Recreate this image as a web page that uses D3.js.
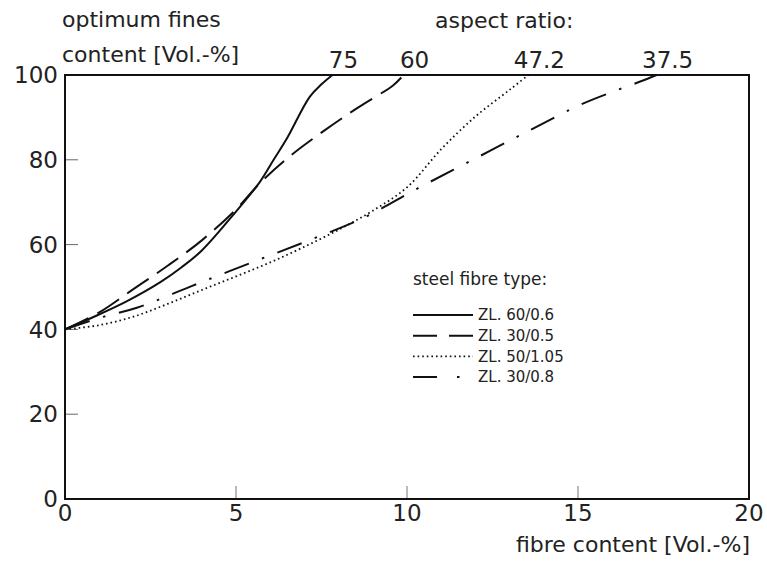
<!DOCTYPE html>
<html>
<head>
<meta charset="utf-8">
<script src="https://cdn.jsdelivr.net/npm/d3@7"></script>
<style>
  body { margin: 0; background: #fff; }
  svg { display: block; font-family: "DejaVu Sans", sans-serif; }
</style>
</head>
<body>
<div id="chart"></div>
<script>
// Valeurs
const xTicks = [0, 5, 10, 15, 20];
const yTicks = [0, 20, 40, 60, 80, 100];

const seriesNames = ["ZL. 60/0.6", "ZL. 30/0.5", "ZL. 50/1.05", "ZL. 30/0.8"];
const aspectRatios = ["75", "60", "47.2", "37.5"];

// fibre content [Vol.-%] / optimum fines content [Vol.-%]
const zl60x = [0, 0.8, 1.8, 2.8, 3.4, 4.0, 5.0, 5.7, 6.1, 6.5, 7.15, 7.5, 7.82];
const zl60y = [40, 42.8, 46.6, 51.2, 54.6, 58.6, 67.8, 74.8, 80, 85.2, 94.8, 97.8, 100];

const zl30x = [0, 1, 2, 3, 4, 5, 5.7, 6.6, 7.6, 8.6, 9.6, 9.9];
const zl30y = [40, 44, 49.5, 55, 61, 68.3, 74.5, 81, 87, 92.5, 97.6, 100];

const zl50x = [0, 1, 2, 3, 4, 5, 6, 7, 8, 9, 10, 11, 12, 13, 13.55];
const zl50y = [40, 41, 43, 46, 49.3, 52.5, 55.8, 59.5, 63.5, 68, 73.5, 82.5, 90.2, 96.5, 100];

const zl308x = [0, 1, 2.1, 3.7, 5.4, 7.1, 8.75, 10.3, 11.9, 13.5, 15.1, 16.1, 16.8, 17.3];
const zl308y = [40, 42.7, 45.1, 50.2, 55.6, 60.9, 66.4, 73.2, 79.9, 86.6, 93.1, 96.3, 98.4, 100];

const width = 767, height = 561;
const x = d3.scaleLinear().domain([0, 20]).range([65, 749]);
const y = d3.scaleLinear().domain([0, 100]).range([499, 75]);

const styles = [
  { dash: null, w: 2 },
  { dash: "26,10", w: 2 },
  { dash: "1.6,3", w: 1.8 },
  { dash: "26,14,2.5,14", w: 2 }
];

const svg = d3.select("#chart").append("svg")
  .attr("width", width).attr("height", height);

// ticks intérieurs
svg.append("g").selectAll("line")
  .data(xTicks.slice(1, -1)).enter().append("line")
  .attr("x1", d => x(d)).attr("x2", d => x(d))
  .attr("y1", y(0)).attr("y2", y(0) - 13)
  .attr("stroke", "#777").attr("stroke-width", 1);

svg.append("g").selectAll("line")
  .data(yTicks.slice(1, -1)).enter().append("line")
  .attr("x1", x(0)).attr("x2", x(0) + 13)
  .attr("y1", d => y(d)).attr("y2", d => y(d))
  .attr("stroke", "#666").attr("stroke-width", 1);

// cadre
svg.append("rect")
  .attr("x", x(0)).attr("y", y(100))
  .attr("width", x(20) - x(0)).attr("height", y(0) - y(100))
  .attr("fill", "none").attr("stroke", "#111").attr("stroke-width", 2);

// étiquettes des axes
svg.append("g").selectAll("text")
  .data(xTicks).enter().append("text")
  .attr("x", d => x(d)).attr("y", 521)
  .attr("text-anchor", "middle")
  .style("font-size", "23px").style("fill", "#222")
  .text(d => d);

svg.append("g").selectAll("text")
  .data(yTicks).enter().append("text")
  .attr("x", 58).attr("y", d => y(d)).attr("dy", "0.36em")
  .attr("text-anchor", "end")
  .style("font-size", "23px").style("fill", "#222")
  .text(d => d);

svg.append("text").attr("x", 750).attr("y", 552)
  .attr("text-anchor", "end")
  .style("font-size", "22px").style("fill", "#222")
  .text("fibre content [Vol.-%]");

svg.append("text").attr("x", 62).attr("y", 27)
  .style("font-size", "22px").style("fill", "#222")
  .text("optimum fines");
svg.append("text").attr("x", 62).attr("y", 62)
  .style("font-size", "22px").style("fill", "#222")
  .text("content [Vol.-%]");

svg.append("text").attr("x", 435).attr("y", 28)
  .style("font-size", "22px").style("fill", "#222")
  .text("aspect ratio:");

// courbes
const allX = [zl60x, zl30x, zl50x, zl308x];
const allY = [zl60y, zl30y, zl50y, zl308y];
const curves = allX.map((xs, i) => xs.map((v, j) => [v, allY[i][j]]));

const line = d3.line()
  .x(d => x(d[0])).y(d => y(d[1]))
  .curve(d3.curveCatmullRom.alpha(0.5));

svg.append("g").selectAll("path")
  .data(curves).enter().append("path")
  .attr("d", line)
  .attr("fill", "none")
  .attr("stroke", "#111")
  .attr("stroke-width", (d, i) => styles[i].w)
  .attr("stroke-dasharray", (d, i) => styles[i].dash);

// rapports d'aspect au bout de chaque courbe
svg.append("g").selectAll("text")
  .data(curves).enter().append("text")
  .attr("x", d => x(d[d.length - 1][0]) + 11)
  .attr("y", 68)
  .attr("text-anchor", "middle")
  .style("font-size", "23px").style("fill", "#222")
  .text((d, i) => aspectRatios[i]);

// légende
const legend = svg.append("g");
legend.append("text").attr("x", 413).attr("y", 285)
  .style("font-size", "17px").style("fill", "#222")
  .text("steel fibre type:");

const rows = legend.selectAll("g.row")
  .data(seriesNames).enter().append("g")
  .attr("transform", (d, i) => `translate(413, ${315 + i * 20.7})`);

rows.append("line")
  .attr("x1", 0).attr("x2", 60).attr("y1", 0).attr("y2", 0)
  .attr("stroke", "#111")
  .attr("stroke-width", (d, i) => styles[i].w)
  .attr("stroke-dasharray", (d, i) => i === 1 ? "24,12" : i === 3 ? "24,20,2.5,30" : styles[i].dash);

rows.append("text")
  .attr("x", 65).attr("y", 0).attr("dy", "0.35em")
  .style("font-size", "15px").style("fill", "#222")
  .text(d => d);
</script>
</body>
</html>
